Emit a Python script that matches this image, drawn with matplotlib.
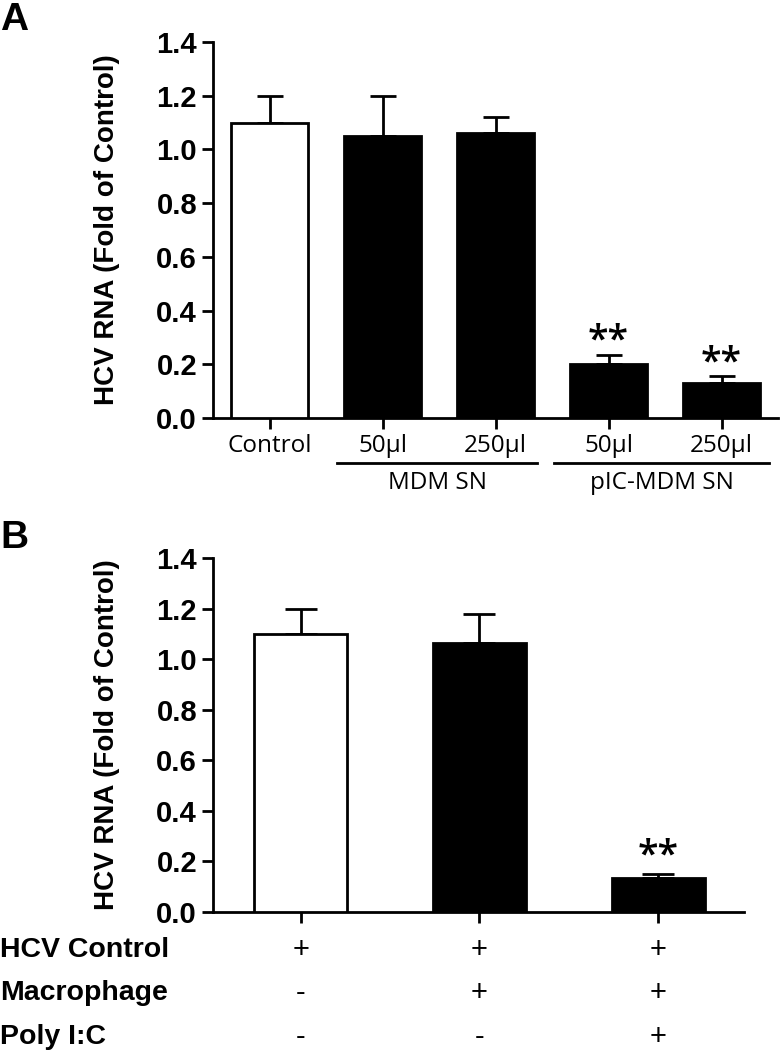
import matplotlib
matplotlib.use("Agg")
import matplotlib.pyplot as plt
import numpy as np

# Panel A data
a_labels = ["Control", "50\u00b5l", "250\u00b5l", "50\u00b5l", "250\u00b5l"]
a_values = [1.10, 1.05, 1.06, 0.20, 0.13]
a_errors = [0.10, 0.15, 0.06, 0.035, 0.025]
a_colors = ["white", "black", "black", "black", "black"]
a_sig = ["", "", "", "**", "**"]
a_groups = ["MDM SN", "pIC-MDM SN"]

# Panel B data
b_values = [1.10, 1.065, 0.135]
b_errors = [0.10, 0.115, 0.015]
b_colors = ["white", "black", "black"]
b_sig = ["", "", "**"]
b_rows = ["HCV Control", "Macrophage", "Poly I:C"]
b_signs = [["+", "+", "+"], ["-", "+", "+"], ["-", "-", "+"]]
yticks = [0.0, 0.2, 0.4, 0.6, 0.8, 1.0, 1.2, 1.4]

W, H = 780, 1053
fig = plt.figure(figsize=(W / 100, H / 100), dpi=100)

bold = dict(family="Liberation Sans", weight="bold")
cal = "Open Sans"

def fx(px):
    return px / W

def fy(py):
    return 1 - py / H

def style_axes(ax):
    for s in ["top", "right"]:
        ax.spines[s].set_visible(False)
    for s in ["left", "bottom"]:
        ax.spines[s].set_linewidth(2)
    ax.tick_params(axis="both", direction="out", length=8, width=2)
    ax.set_ylim(0, 1.4)
    ax.set_yticks(yticks)
    ax.set_yticklabels([f"{t:.1f}" for t in yticks], fontsize=21, **bold)
    ax.set_ylabel("HCV RNA (Fold of Control)", fontsize=20, **bold)

# ---- Panel A ----
axA = fig.add_axes([fx(213), fy(418), fx(778) - fx(213), fy(42) - fy(418)])
xa = np.arange(len(a_values))
axA.bar(xa, a_values, width=0.68, color=a_colors, edgecolor="black", linewidth=2, zorder=3)
axA.errorbar(xa, a_values, yerr=[np.zeros(len(a_errors)), a_errors], fmt="none",
             ecolor="black", elinewidth=2, capsize=9.5, capthick=2, zorder=2)
for x, v, e, s in zip(xa, a_values, a_errors, a_sig):
    if s:
        axA.text(x, v + e - 0.022, s, ha="center", va="bottom", fontsize=27,
                 family=cal, weight="semibold")
axA.set_xlim(-0.5, 4.5)
axA.set_xticks(xa)
axA.set_xticklabels(a_labels, fontsize=17.5, family=cal)
style_axes(axA)
axA.yaxis.set_label_coords(-0.165, 0.5)

# group lines
trans = axA.get_xaxis_transform()
for (x0, x1), name in zip([(0.6, 2.37), (2.52, 4.42)], a_groups):
    yline = -(463 - 418) / (418 - 42)
    axA.plot([x0, x1], [yline, yline], color="black", lw=2, transform=trans, clip_on=False)
    axA.text((x0 + x1) / 2, yline - 0.02, name, ha="center", va="top", fontsize=17.5,
             family=cal, transform=trans)

fig.text(fx(0), fy(2), "A", ha="left", va="top", fontsize=28, **bold)

# ---- Panel B ----
axB = fig.add_axes([fx(213), fy(912), fx(744) - fx(213), fy(558) - fy(912)])
xb = np.arange(len(b_values))
axB.bar(xb, b_values, width=0.52, color=b_colors, edgecolor="black", linewidth=2, zorder=3)
axB.errorbar(xb, b_values, yerr=[np.zeros(len(b_errors)), b_errors], fmt="none",
             ecolor="black", elinewidth=2, capsize=11.5, capthick=2, zorder=2)
for x, v, e, s in zip(xb, b_values, b_errors, b_sig):
    if s:
        axB.text(x, v + e - 0.005, s, ha="center", va="bottom", fontsize=27,
                 family=cal, weight="semibold")
axB.set_xlim(-0.49, 2.48)
axB.set_xticks(xb)
axB.set_xticklabels([""] * len(xb))
style_axes(axB)
axB.yaxis.set_label_coords(-0.175, 0.5)

fig.text(fx(0), fy(520), "B", ha="left", va="top", fontsize=28, **bold)

row_y = [950, 993, 1037]
transB = axB.get_xaxis_transform()
for ry, name, signs in zip(row_y, b_rows, b_signs):
    fig.text(fx(0), fy(ry), name, ha="left", va="center", fontsize=20.5, **bold)
    ya = -(ry - 912) / (912 - 558)
    for x, s in zip(xb, signs):
        axB.text(x, ya, s, ha="center", va="center", fontsize=21,
                 family="Liberation Sans", transform=transB)

fig.savefig("out.png", dpi=100)
